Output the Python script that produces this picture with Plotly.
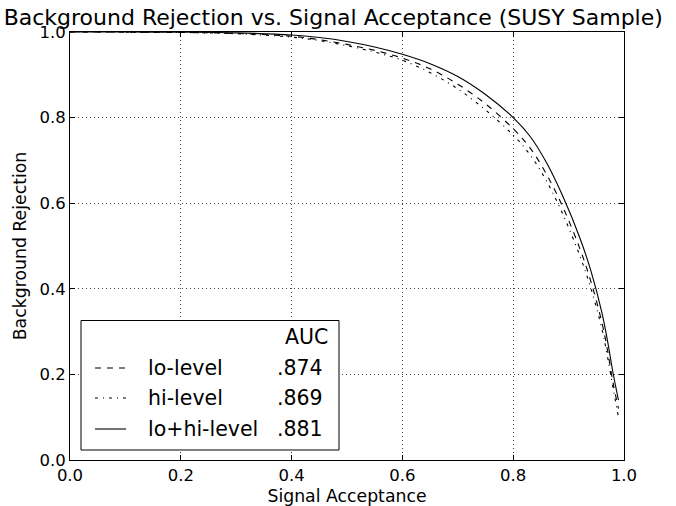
import plotly.graph_objects as go

# ---- data ----
signal_acceptance = [0.0, 0.1, 0.2, 0.3, 0.4, 0.45, 0.5, 0.55, 0.6, 0.65, 0.7, 0.75, 0.8,
                     0.83, 0.86, 0.89, 0.92, 0.94, 0.96, 0.97, 0.98, 0.99]
rej_lo = [1.0, 0.9998, 0.9990, 0.9965, 0.990, 0.982, 0.971, 0.957, 0.939, 0.914, 0.878, 0.832, 0.774,
          0.730, 0.668, 0.590, 0.495, 0.418, 0.322, 0.258, 0.182, 0.120]
rej_hi = [1.0, 0.9998, 0.9988, 0.9960, 0.988, 0.980, 0.968, 0.953, 0.934, 0.905, 0.867, 0.818, 0.759,
          0.714, 0.652, 0.573, 0.478, 0.402, 0.307, 0.243, 0.170, 0.100]
rej_lohi = [1.0, 0.9999, 0.9995, 0.9980, 0.993, 0.987, 0.978, 0.965, 0.948, 0.926, 0.896, 0.854, 0.800,
            0.757, 0.695, 0.615, 0.520, 0.443, 0.345, 0.280, 0.205, 0.140]

series_names = ["lo-level", "hi-level", "lo+hi-level"]
auc_values = [".874", ".869", ".881"]
dash_styles = ["6px,6px", "3px,5px,1px,5px", "solid"]
x_ticks = [0.0, 0.2, 0.4, 0.6, 0.8, 1.0]
y_ticks = [0.0, 0.2, 0.4, 0.6, 0.8, 1.0]

FONT = "DejaVu Sans"
W, H = 676, 506
L, R, T, B = 70, 52, 32, 46
PW, PH = W - L - R, H - T - B

fig = go.Figure()
for ys, name, dash in zip([rej_lo, rej_hi, rej_lohi], series_names, dash_styles):
    fig.add_trace(go.Scatter(
        x=signal_acceptance, y=ys, mode="lines", name=name,
        line=dict(color="black", width=1.1, dash=dash),
        line_shape="spline", showlegend=False))

axis_common = dict(
    range=[0, 1], showline=True, linecolor="black", linewidth=1, mirror="ticks",
    ticks="inside", ticklen=5, tickcolor="black", tickwidth=1,
    showgrid=True, gridcolor="#444", gridwidth=0.6, griddash="1px,3px",
    zeroline=False, tickformat=".1f", automargin=False,
    tickfont=dict(family=FONT, size=16.5, color="black"),
)
fig.update_xaxes(**axis_common, tickvals=x_ticks,
                 title=dict(text="Signal Acceptance", standoff=6,
                            font=dict(family=FONT, size=17.3, color="black")))
fig.update_yaxes(**axis_common, tickvals=y_ticks,
                 title=dict(text="Background Rejection", standoff=8,
                            font=dict(family=FONT, size=17.3, color="black")))

# ---- manual legend (paper coords) ----
def px_x(p):
    return (p - L) / PW

def px_y(p):
    return (H - B - p) / PH

LEG = 20.5
shapes = [dict(type="rect", xref="paper", yref="paper",
               x0=px_x(81), x1=px_x(339), y0=px_y(450), y1=px_y(320.5),
               line=dict(color="black", width=1), fillcolor="white", layer="above")]
annotations = [dict(text="AUC", xref="paper", yref="paper", x=px_x(330), y=px_y(337),
                    xanchor="right", yanchor="middle", showarrow=False,
                    font=dict(family=FONT, size=LEG, color="black"))]
row_y = [368, 398, 429]
for name, auc, dash, ry in zip(series_names, auc_values, dash_styles, row_y):
    shapes.append(dict(type="line", xref="paper", yref="paper",
                       x0=px_x(95), x1=px_x(126), y0=px_y(ry), y1=px_y(ry),
                       line=dict(color="black", width=1.1, dash=dash), layer="above"))
    annotations.append(dict(text=name, xref="paper", yref="paper", x=px_x(146), y=px_y(ry),
                            xanchor="left", yanchor="middle", showarrow=False,
                            font=dict(family=FONT, size=LEG, color="black")))
    annotations.append(dict(text=auc, xref="paper", yref="paper", x=px_x(275), y=px_y(ry),
                            xanchor="left", yanchor="middle", showarrow=False,
                            font=dict(family=FONT, size=LEG, color="black")))

fig.update_layout(
    width=W, height=H,
    margin=dict(l=L, r=R, t=T, b=B),
    paper_bgcolor="white", plot_bgcolor="white",
    title=dict(text="Background Rejection vs. Signal Acceptance (SUSY Sample)",
               xref="container", yref="container", x=0.493, y=1 - 17 / H,
               xanchor="center", yanchor="middle",
               font=dict(family=FONT, size=22, color="black")),
    shapes=shapes, annotations=annotations,
)

fig.write_html("out.html", config={"displayModeBar": False},
               post_script="document.body.style.margin='0';document.body.style.overflow='hidden';")
